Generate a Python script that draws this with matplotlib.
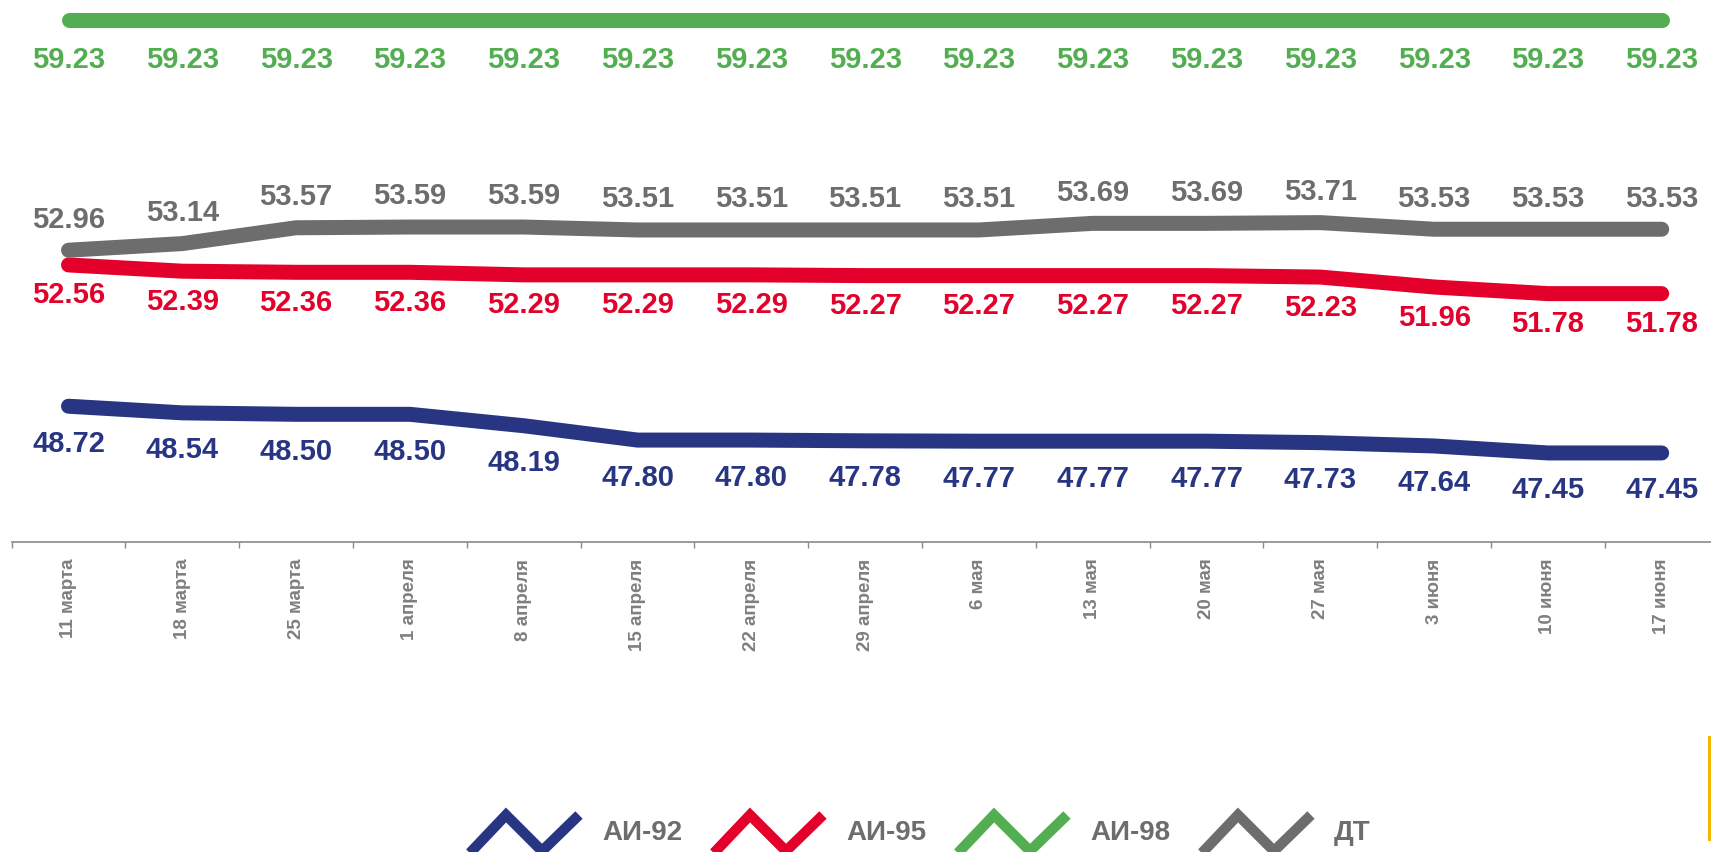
import matplotlib
matplotlib.use("Agg")
import matplotlib.pyplot as plt
from matplotlib.lines import Line2D
from matplotlib.patches import Rectangle

plt.rcParams['font.family'] = ['Liberation Sans', 'DejaVu Sans']

dates = ["11 марта", "18 марта", "25 марта", "1 апреля", "8 апреля", "15 апреля",
         "22 апреля", "29 апреля", "6 мая", "13 мая", "20 мая", "27 мая",
         "3 июня", "10 июня", "17 июня"]
ai92 = [48.72, 48.54, 48.50, 48.50, 48.19, 47.80, 47.80, 47.78, 47.77, 47.77,
        47.77, 47.73, 47.64, 47.45, 47.45]
ai95 = [52.56, 52.39, 52.36, 52.36, 52.29, 52.29, 52.29, 52.27, 52.27, 52.27,
        52.27, 52.23, 51.96, 51.78, 51.78]
ai98 = [59.23] * 15
dt = [52.96, 53.14, 53.57, 53.59, 53.59, 53.51, 53.51, 53.51, 53.51, 53.69,
      53.69, 53.71, 53.53, 53.53, 53.53]
series_names = ["АИ-92", "АИ-95", "АИ-98", "ДТ"]

blue = "#283583"
red = "#E3002B"
green = "#52AE51"
grey = "#6D6D6D"

W, H = 1711, 852
fig = plt.figure(figsize=(W / 100, H / 100), dpi=100)

# axes placed in pixel terms; runs slightly past the right edge like the original
step = 113.8
ax = fig.add_axes([11.6 / W, (H - 542) / H, 15 * step / W, 542 / H])
ax.set_xlim(-0.5, 14.5)
ax.set_ylim(45.03, 59.76)

x = list(range(len(dates)))
lw = 15 * 72 / 100

# (values, colour, label offset in points)
plot_spec = [
    (ai92, blue, -27),
    (ai95, red, -22),
    (ai98, green, -29),
    (dt, grey, 22),
]
for vals, col, off in plot_spec:
    ax.plot(x, vals, color=col, lw=lw, solid_capstyle='round',
            solid_joinstyle='round', clip_on=False)
    for xi, v in zip(x, vals):
        ax.annotate(f"{v:.2f}", (xi, v), xytext=(0, off), textcoords='offset points',
                    ha='center', va='center', fontsize=21, fontweight='bold',
                    color=col, annotation_clip=False)

for s in ['top', 'right', 'left']:
    ax.spines[s].set_visible(False)
ax.spines['bottom'].set_color('#8A8A8A')
ax.spines['bottom'].set_linewidth(1.2)
ax.set_yticks([])
ax.set_xticks(x)
ax.set_xticklabels(dates, rotation=90, fontsize=13.5, fontweight='bold',
                   color='#7F7F7F', va='top', ha='center')
ax.set_xticks([i - 0.5 for i in range(16)], minor=True)
ax.tick_params(axis='x', which='major', length=0, pad=12)
ax.tick_params(axis='x', which='minor', length=4.5, width=1, color='#8A8A8A',
               direction='out')

# legend drawn by hand: zig-zag icons + labels
def fx(px):
    return px / W

def fy(py):
    return (H - py) / H

icon_dx = [0, 38, 74, 111]
icon_dy = [855, 815, 851, 815]
for i, (name, col) in enumerate(zip(series_names, [blue, red, green, grey])):
    x0 = 468 + i * 244
    fig.add_artist(Line2D([fx(x0 + d) for d in icon_dx], [fy(d) for d in icon_dy],
                          transform=fig.transFigure, color=col, lw=7.5,
                          solid_joinstyle='miter', solid_capstyle='butt'))
    fig.text(fx(x0 + 134), fy(833), name, fontsize=20, fontweight='bold',
             color=grey, ha='left', va='center')

fig.add_artist(Rectangle((fx(1708), fy(841)), 3 / W, 105 / H,
                         transform=fig.transFigure, color='#F5B400', lw=0))

fig.savefig("out.png", dpi=100)
